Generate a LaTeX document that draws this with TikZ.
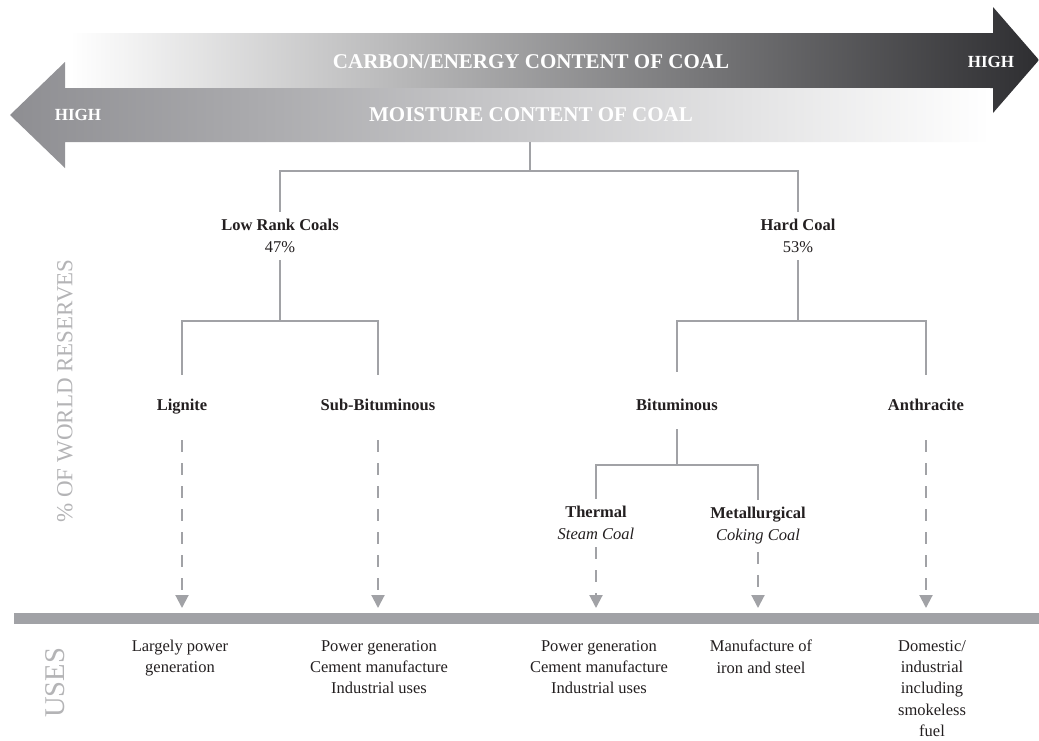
\documentclass[tikz,border=0pt]{standalone}
\usepackage{fontspec}
\setmainfont{Liberation Serif}
\usepackage{tikz}
\usetikzlibrary{arrows.meta}

\definecolor{linegray}{HTML}{A1A2A6}
\definecolor{txtdark}{HTML}{231F20}
\definecolor{sidegray}{HTML}{B4B4B6}
\definecolor{carbondark}{HTML}{2E2E31}
\definecolor{moistgray}{HTML}{8E8E92}

\tikzset{
  branch/.style={draw=linegray, line width=2pt},
  usearrow/.style={draw=linegray, line width=2pt, dash pattern=on 12pt off 11pt,
    -{Triangle[width=13pt,length=13pt]}},
  grp/.style={align=center, text=txtdark, font=\fontsize{16.5}{22}\selectfont,
    inner sep=0pt, outer sep=7.5pt},
  kind/.style={text=txtdark, font=\bfseries\fontsize{16.5}{20}\selectfont,
    inner sep=0pt, text height=12pt, text depth=4pt},
  usetext/.style={align=center, text=txtdark, font=\fontsize{16.5}{21.3}\selectfont,
    inner sep=0pt, anchor=north},
  bandtext/.style={text=white, font=\bfseries\fontsize{21}{21}\selectfont, inner sep=0pt},
  sidelabel/.style={text=sidegray, rotate=90, inner sep=0pt}
}

\begin{document}
\begin{tikzpicture}[x=1pt, y=-1pt]
    \useasboundingbox (0,0) rectangle (1039,740);

    % the two band arrows
    \shade[left color=white, right color=carbondark]
        (70,33) -- (993,33) -- (993,7) -- (1039,60) -- (993,113) -- (993,88) -- (70,88) -- cycle;
    \shade[left color=moistgray, right color=white]
        (10,115) -- (65,62) -- (65,88) -- (990,88) -- (990,142) -- (65,142) -- (65,168) -- cycle;

    \node[bandtext] (carbon) at (531,62) {CARBON/ENERGY CONTENT OF COAL};
    \node[bandtext, font=\bfseries\fontsize{17}{17}\selectfont] (carbonhigh) at (991,62) {HIGH};
    \node[bandtext] (moist) at (531,115) {MOISTURE CONTENT OF COAL};
    \node[bandtext, font=\bfseries\fontsize{17}{17}\selectfont] (moisthigh) at (78,115) {HIGH};

    \node[sidelabel, font=\fontsize{23}{23}\selectfont] (reserves) at (65,391) {\% OF WORLD RESERVES};
    \node[sidelabel, font=\fontsize{28.6}{28.6}\selectfont] (uses) at (55,683) {USES};

    % tree
    \coordinate (root) at (530,142);
    \coordinate (fork) at (530,171);
    \node[grp] (low) at (280,236) {\textbf{Low Rank Coals}\\47\%};
    \node[grp] (hard) at (798,236) {\textbf{Hard Coal}\\53\%};
    \coordinate (lowfork) at (280,321);
    \coordinate (hardfork) at (798,321);

    \node[kind] (lig) at (182,406) {Lignite};
    \node[kind] (sub) at (378,406) {Sub-Bituminous};
    \node[kind] (bit) at (677,406) {Bituminous};
    \node[kind] (anth) at (926,406) {Anthracite};

    \coordinate (bitfork) at (677,465);
    \node[grp] (therm) at (596,523) {\textbf{Thermal}\\\textit{Steam Coal}};
    \node[grp] (metal) at (758,526) {\textbf{Metallurgical}\\\textit{Coking Coal}};

    \draw[branch] (root) -- (fork);
    \draw[branch] (low.north) |- (fork) -| (hard.north);
    \draw[branch] (low.south) -- (lowfork);
    \draw[branch] (hard.south) -- (hardfork);
    \draw[branch, shorten <=23pt, shorten >=23pt] (lig.north) |- (lowfork) -| (sub.north);
    \draw[branch, shorten <=26pt, shorten >=23pt] (bit.north) |- (hardfork) -| (anth.north);
    \draw[branch, shorten <=15pt] (bit.south) -- (bitfork);
    \draw[branch] (therm.north) |- (bitfork) -| (metal.north);

    % uses
    \coordinate (bartop) at (0,608);
    \draw[linegray, line width=11pt] (14,618) -- (1039,618);

    \draw[usearrow, shorten <=26pt] (lig.south) -- (lig.south |- bartop);
    \draw[usearrow, shorten <=26pt] (sub.south) -- (sub.south |- bartop);
    \draw[usearrow, shorten <=26pt] (anth.south) -- (anth.south |- bartop);
    \draw[usearrow] (therm.south) -- (therm.south |- bartop);
    \draw[usearrow] (metal.south) -- (metal.south |- bartop);

    \node[usetext] (liguse) at (180,640) {Largely power\\generation};
    \node[usetext] (subuse) at (379,640) {Power generation\\Cement manufacture\\Industrial uses};
    \node[usetext] (thermuse) at (599,640) {Power generation\\Cement manufacture\\Industrial uses};
    \node[usetext] (metaluse) at (761,640) {Manufacture of\\iron and steel};
    \node[usetext] (anthuse) at (932,640) {Domestic/\\industrial\\including\\smokeless\\fuel};
\end{tikzpicture}
\end{document}
